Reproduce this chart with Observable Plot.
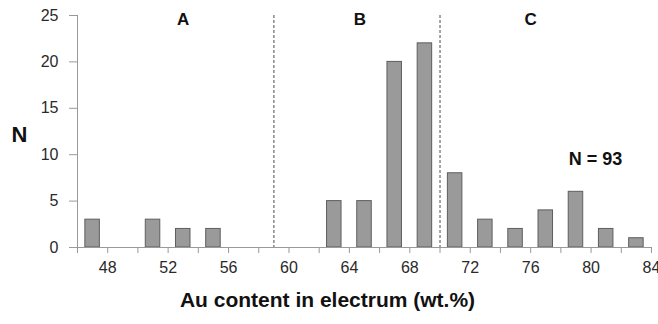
<!DOCTYPE html>
<html>
<head>
<meta charset="utf-8">
<script src="https://cdn.jsdelivr.net/npm/d3@7"></script>
<script src="https://cdn.jsdelivr.net/npm/@observablehq/plot@0.6"></script>
<style>
  html, body { margin: 0; padding: 0; background: #fff; }
  g[aria-label="x-axis tick label"], g[aria-label="y-axis tick label"] { font-size: 16px; }
</style>
</head>
<body>
<div id="chart"></div>
<script>
// Bin centres (Au wt.%) and counts
const binCenters = [47, 51, 53, 55, 63, 65, 67, 69, 71, 73, 75, 77, 79, 81, 83];
const counts     = [3, 3, 2, 2, 5, 5, 20, 22, 8, 3, 2, 4, 6, 2, 1];
// Group boundaries (dashed lines)
const boundaries = [59, 70];
// Group labels
const groupNames = ["A", "B", "C"];
const groupX     = [53, 64.7, 76];
// Axis ticks
const xMinorTicks = [46, 48, 50, 52, 54, 56, 58, 60, 62, 64, 66, 68, 70, 72, 74, 76, 78, 80, 82, 84];
const xLabelTicks = [48, 52, 56, 60, 64, 68, 72, 76, 80, 84];
const yTicks = [0, 5, 10, 15, 20, 25];
const xTitle = "Au content in electrum (wt.%)";
const yTitle = "N";
const totalNote = "N = 93";
const totalNoteX = 80.3;
const totalNoteY = 9.5;

const bars = binCenters.map((c, i) => ({x1: c - 0.5, x2: c + 0.5, n: counts[i]}));
const groups = groupNames.map((g, i) => ({g, x: groupX[i]}));

const chart = Plot.plot({
  width: 658,
  height: 324,
  marginLeft: 77,
  marginRight: 7,
  marginTop: 15,
  marginBottom: 77,
  style: {fontFamily: "'Liberation Sans', Arial, sans-serif", fontSize: "16px", color: "#2a2a2a", background: "#fff"},
  x: {domain: [46, 84]},
  y: {domain: [0, 25]},
  marks: [
    Plot.rectY(bars, {x1: "x1", x2: "x2", y: "n", fill: "#9a9a9a", stroke: "#5e5e5e", strokeWidth: 1, insetLeft: 0.3, insetRight: 0.3}),
    Plot.ruleX(boundaries, {stroke: "#888", strokeWidth: 1.5, strokeDasharray: "3,2"}),
    Plot.ruleX([46], {stroke: "#999", strokeWidth: 1}),
    Plot.ruleY([0], {stroke: "#999", strokeWidth: 1, insetLeft: -7}),
    Plot.axisX({ticks: xMinorTicks, tickFormat: () => "", tickSize: 6, stroke: "#999", label: null}),
    Plot.axisX({ticks: xLabelTicks, tickSize: 0, tickPadding: 14, label: null, fill: "#2a2a2a"}),
    Plot.axisY({ticks: yTicks, tickSize: 8, tickPadding: 11, stroke: "#999", label: null, fill: "#2a2a2a"}),
    Plot.text(groups, {x: "x", text: "g", frameAnchor: "top", dy: -3, fontWeight: "bold", fontSize: 17, fill: "#111"}),
    Plot.text([totalNote], {x: [totalNoteX], y: [totalNoteY], text: d => d, fontWeight: "bold", fontSize: 18, fill: "#111"}),
    Plot.text([xTitle], {frameAnchor: "bottom", dx: -37, dy: 59, fontWeight: "bold", fontSize: 21, fill: "#111"}),
    Plot.text([yTitle], {frameAnchor: "left", dx: -66, dy: 3, fontWeight: "bold", fontSize: 22, fill: "#111"})
  ]
});
document.getElementById("chart").appendChild(chart);
</script>
</body>
</html>
